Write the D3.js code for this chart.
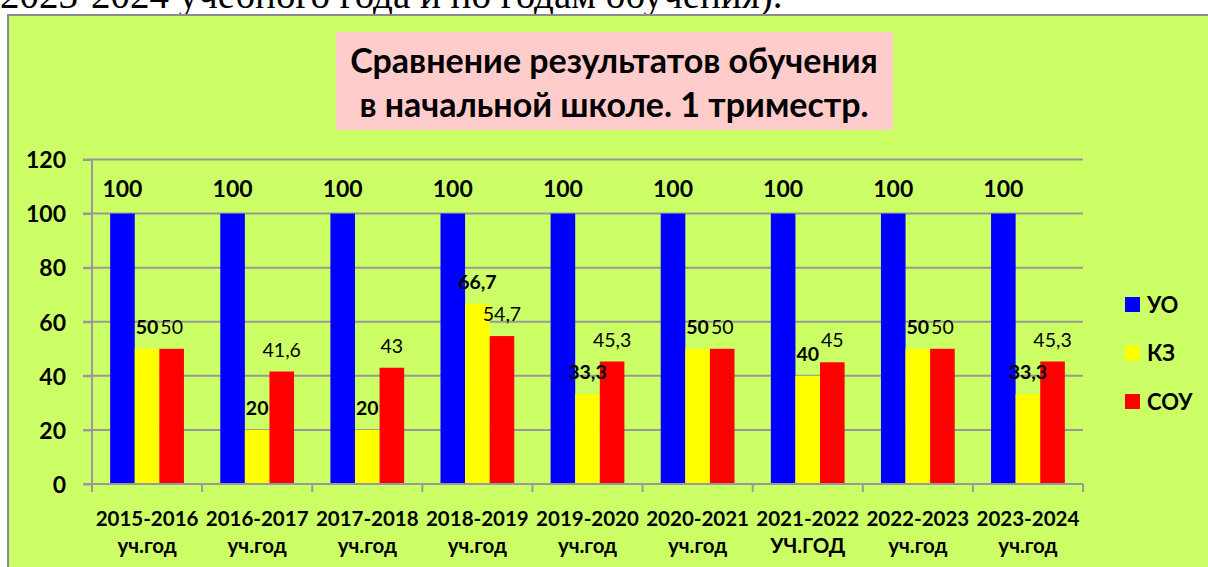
<!DOCTYPE html>
<html>
<head>
<meta charset="utf-8">
<script src="https://cdn.jsdelivr.net/npm/d3@7"></script>
<style>
  body { margin: 0; background: #fff; }
  svg { display: block; }
  .axis text { font-family: Lato, "Open Sans", sans-serif; font-weight: bold; fill: #000; }
</style>
</head>
<body>
<svg id="chart" width="1208" height="567"></svg>
<script>
// data
var years = ["2015-2016", "2016-2017", "2017-2018", "2018-2019", "2019-2020",
             "2020-2021", "2021-2022", "2022-2023", "2023-2024"];
var yearSub = ["уч.год", "уч.год", "уч.год", "уч.год", "уч.год",
               "уч.год", "УЧ.ГОД", "уч.год", "уч.год"];
var seriesNames = ["УО", "КЗ", "СОУ"];
var uo  = [100, 100, 100, 100, 100, 100, 100, 100, 100];
var kz  = [50, 20, 20, 66.7, 33.3, 50, 40, 50, 33.3];
var sou = [50, 41.6, 43, 54.7, 45.3, 50, 45, 50, 45.3];
var yTicks = [0, 20, 40, 60, 80, 100, 120];
var colors = ["#0000ff", "#ffff00", "#ff0000"];

var svg = d3.select("#chart");
var font = "Lato, 'Open Sans', sans-serif";

// text of the page above the chart (cut off at top)
svg.append("text")
    .attr("x", 0)
    .attr("y", 8)
    .style("font", "39px 'Liberation Serif', 'Times New Roman', serif")
    .text("2023-2024 учебного года и по годам обучения).");

// chart area
svg.append("rect")
    .attr("x", 8).attr("y", 15)
    .attr("width", 1210).attr("height", 560)
    .attr("fill", "#ccff66")
    .attr("stroke", "#8c8c8c")
    .attr("stroke-width", 2);

// title box
svg.append("rect")
    .attr("x", 336).attr("y", 32)
    .attr("width", 557).attr("height", 98)
    .attr("fill", "#ffcccc");

var title = svg.append("text")
    .attr("text-anchor", "middle")
    .style("font-family", font)
    .style("font-weight", "bold")
    .style("font-size", "34px")
    .attr("fill", "#000");
title.append("tspan").attr("x", 614).attr("y", 73).text("Сравнение результатов обучения");
title.append("tspan").attr("x", 614).attr("y", 117).text("в начальной школе. 1 триместр.");

var data = years.map(function(y, i) {
    return {year: y, sub: yearSub[i], values: [uo[i], kz[i], sou[i]]};
});

var x = d3.scaleBand()
    .domain(years)
    .range([92, 1083])
    .padding(0);

var x1 = d3.scaleBand()
    .domain(seriesNames)
    .range([x.bandwidth() * 0.165, x.bandwidth() * 0.835]);

var y = d3.scaleLinear()
    .domain([0, 120])
    .range([484, 159.5]);

var fmt = function(v) { return String(v).replace(".", ","); };

// gridlines
svg.append("g")
    .selectAll("line")
    .data(yTicks)
    .enter().append("line")
    .attr("x1", 83).attr("x2", 1083)
    .attr("y1", function(d) { return y(d); })
    .attr("y2", function(d) { return y(d); })
    .attr("stroke", "#999999")
    .attr("stroke-width", 2);

// y axis
var yAxis = svg.append("g")
    .attr("class", "axis")
    .attr("transform", "translate(92,0)")
    .call(d3.axisLeft(y).tickValues(yTicks).tickSize(9).tickPadding(17));
yAxis.selectAll("line").attr("stroke", "#999999").attr("stroke-width", 2);
yAxis.select(".domain").attr("stroke", "#999999").attr("stroke-width", 2)
    .attr("d", "M0,159.5V492");
yAxis.selectAll("text").style("font-size", "23px").attr("dy", "0.36em");

// bars
var groups = svg.append("g")
    .selectAll("g")
    .data(data)
    .enter().append("g")
    .attr("transform", function(d) { return "translate(" + x(d.year) + ",0)"; });

groups.selectAll("rect")
    .data(function(d) { return d.values.map(function(v, j) { return {key: seriesNames[j], value: v, j: j}; }); })
    .enter().append("rect")
    .attr("x", function(d) { return x1(d.key); })
    .attr("y", function(d) { return y(d.value); })
    .attr("width", x1.bandwidth())
    .attr("height", function(d) { return y(0) - y(d.value); })
    .attr("fill", function(d) { return colors[d.j]; });

// value labels
groups.selectAll("text")
    .data(function(d) { return d.values.map(function(v, j) { return {key: seriesNames[j], value: v, j: j}; }); })
    .enter().append("text")
    .attr("x", function(d) { return x1(d.key) + x1.bandwidth() / 2; })
    .attr("y", function(d) { return y(d.value) - (d.j == 0 ? 25 : 22); })
    .attr("dy", "0.36em")
    .attr("text-anchor", "middle")
    .style("font-family", font)
    .style("font-weight", function(d) { return d.j == 2 ? "normal" : "bold"; })
    .style("font-size", function(d) { return d.j == 0 ? "23px" : "19.5px"; })
    .attr("fill", "#000")
    .text(function(d) { return fmt(d.value); });

// x axis
var xAxis = svg.append("g")
    .attr("class", "axis")
    .attr("transform", "translate(0," + y(0) + ")")
    .call(d3.axisBottom(x).tickSize(0).tickFormat(""));
xAxis.select(".domain").attr("stroke", "#999999").attr("stroke-width", 2)
    .attr("d", "M83,0H1083");

xAxis.selectAll(".sep")
    .data(d3.range(years.length + 1))
    .enter().append("line")
    .attr("class", "sep")
    .attr("x1", function(i) { return 92 + i * x.step(); })
    .attr("x2", function(i) { return 92 + i * x.step(); })
    .attr("y1", 0).attr("y2", 8)
    .attr("stroke", "#999999")
    .attr("stroke-width", 2);

var xl = svg.append("g")
    .selectAll("text")
    .data(data)
    .enter().append("text")
    .attr("text-anchor", "middle")
    .style("font-family", font)
    .style("font-weight", "bold")
    .style("font-size", "20.5px")
    .attr("fill", "#000");
xl.append("tspan")
    .attr("x", function(d) { return x(d.year) + x.bandwidth() / 2; })
    .attr("y", 526)
    .text(function(d) { return d.year; });
xl.append("tspan")
    .attr("x", function(d) { return x(d.year) + x.bandwidth() / 2; })
    .attr("y", 553)
    .text(function(d) { return d.sub; });

// legend
var legend = svg.append("g")
    .selectAll("g")
    .data(seriesNames)
    .enter().append("g")
    .attr("transform", function(d, i) { return "translate(1125," + (297 + i * 48.5) + ")"; });

legend.append("rect")
    .attr("width", 15)
    .attr("height", 15)
    .attr("fill", function(d, i) { return colors[i]; });

legend.append("text")
    .attr("x", 22)
    .attr("y", 8)
    .attr("dy", "0.36em")
    .style("font-family", font)
    .style("font-weight", "bold")
    .style("font-size", "22px")
    .attr("fill", "#000")
    .text(function(d) { return d; });
</script>
</body>
</html>
